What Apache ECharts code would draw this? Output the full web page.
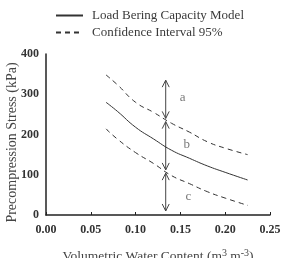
<!DOCTYPE html>
<html>
<head>
<meta charset="utf-8">
<script src="https://cdn.jsdelivr.net/npm/echarts@6/dist/echarts.min.js"></script>
<style>
  html, body { margin: 0; padding: 0; background: #fff; }
  #chart { width: 284px; height: 258px; }
</style>
</head>
<body>
<div id="chart"></div>
<script>
// water content (m3 m-3)
var waterContent = [0.067, 0.08, 0.10, 0.12, 0.14, 0.16, 0.18, 0.20, 0.225]
// precompression stress (kPa)
var modelValues = [280, 257, 218, 189, 161, 141, 122, 106, 87]
var upperValues = [348, 323, 280, 255, 228, 206, 182, 166, 150]
var lowerValues = [214, 188, 155, 128, 98, 78, 58, 42, 24]
// double arrows: [x, from, to]
var arrows = [[0.1336, 335, 240], [0.1336, 232, 112], [0.1336, 104, 10]]
var zoneLabels = [[0.1525, 291, 'a'], [0.157, 176, 'b'], [0.159, 45, 'c']]

function pairs (ys) {
  return waterContent.map(function (x, i) { return [x, ys[i]] })
}

var serif = 'Liberation Serif'
var ink = '#333'
var chart = echarts.init(document.getElementById('chart'))

var option = {
  backgroundColor: '#fff',
  animation: false,
  textStyle: { fontFamily: serif },
  grid: { left: 46, right: 14, top: 54, bottom: 43, outerBoundsMode: 'none', containLabel: false },
  legend: {
    orient: 'vertical',
    left: 50,
    top: 4,
    itemWidth: 27,
    itemHeight: 8,
    itemGap: 4,
    itemStyle: { opacity: 0 },
    data: ['Load Bering Capacity Model', 'Confidence Interval 95%'],
    textStyle: { fontFamily: serif, fontSize: 13, color: '#3a3a3a', padding: [0, 0, 0, 4] }
  },
  xAxis: {
    type: 'value',
    min: 0,
    max: 0.25,
    interval: 0.05,
    name: 'Volumetric Water Content (m{sup|3} m{sup|-3})',
    nameLocation: 'middle',
    nameGap: 33,
    nameMoveOverlap: false,
    nameTextStyle: {
      fontFamily: serif, fontSize: 13.5, color: '#444',
      rich: { sup: { fontSize: 10, verticalAlign: 'top', padding: [0, 0, 7, 0], fontFamily: serif, color: '#444' } }
    },
    axisLine: { lineStyle: { color: '#222', width: 1.5 } },
    axisTick: { inside: true, length: 3, lineStyle: { color: '#222' } },
    splitLine: { show: false },
    axisLabel: {
      margin: 9,
      fontFamily: serif, fontSize: 12, fontWeight: 'bold', color: '#333',
      formatter: function (v) { return v.toFixed(2) }
    }
  },
  yAxis: {
    type: 'value',
    min: 0,
    max: 400,
    interval: 100,
    name: 'Precompression Stress (kPa)',
    nameLocation: 'middle',
    nameGap: 27,
    nameMoveOverlap: false,
    nameTextStyle: { fontFamily: serif, fontSize: 14, color: '#444', padding: [0, 16, 0, 0] },
    axisLine: { show: true, lineStyle: { color: '#222', width: 1.5 } },
    axisTick: { show: false },
    splitLine: { show: false },
    axisLabel: { margin: 7, fontFamily: serif, fontSize: 12, fontWeight: 'bold', color: '#333' }
  },
  series: [{
    name: 'Load Bering Capacity Model',
    type: 'line',
    data: pairs(modelValues),
    smooth: true,
    symbol: 'none',
    lineStyle: { color: ink, width: 1 },
    itemStyle: { color: ink }
  }, {
    name: 'Confidence Interval 95%',
    type: 'line',
    data: pairs(upperValues),
    smooth: true,
    symbol: 'none',
    lineStyle: { color: ink, width: 1, type: [5, 4] },
    itemStyle: { color: ink }
  }, {
    name: 'Confidence Interval 95%',
    type: 'line',
    data: pairs(lowerValues),
    smooth: true,
    symbol: 'none',
    lineStyle: { color: ink, width: 1, type: [5, 4] },
    itemStyle: { color: ink }
  }, {
    type: 'custom',
    data: arrows,
    encode: { x: 0, y: [1, 2] },
    renderItem: function (params, api) {
      var top = api.coord([api.value(0), api.value(1)])
      var bot = api.coord([api.value(0), api.value(2)])
      var st = { stroke: '#444', lineWidth: 1, fill: null }
      return {
        type: 'group',
        children: [{
          type: 'line',
          shape: { x1: top[0], y1: top[1], x2: bot[0], y2: bot[1] },
          style: st
        }, {
          type: 'polyline',
          shape: { points: [[top[0] - 3.5, top[1] + 7], top, [top[0] + 3.5, top[1] + 7]] },
          style: st
        }, {
          type: 'polyline',
          shape: { points: [[bot[0] - 3.5, bot[1] - 7], bot, [bot[0] + 3.5, bot[1] - 7]] },
          style: st
        }]
      }
    }
  }, {
    type: 'scatter',
    data: zoneLabels,
    symbolSize: 0,
    label: {
      show: true,
      position: 'inside',
      formatter: function (p) { return p.value[2] },
      fontFamily: serif,
      fontSize: 13,
      color: '#555'
    }
  }]
}

chart.setOption(option)
window.addEventListener('resize', function () {
  chart.resize()
})
</script>
</body>
</html>
